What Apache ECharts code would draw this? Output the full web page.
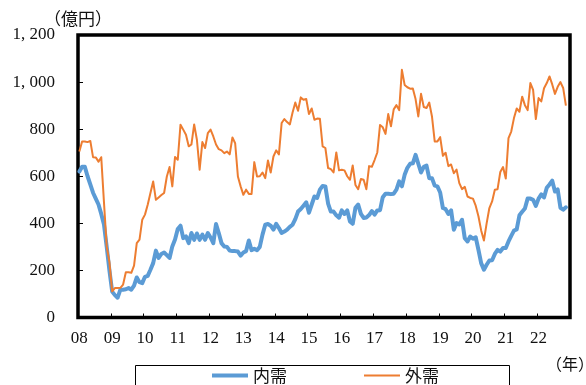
<!DOCTYPE html>
<html>
<head>
<meta charset="utf-8">
<script src="https://cdn.jsdelivr.net/npm/echarts@6/dist/echarts.min.js"></script>
<style>
  html, body { margin: 0; padding: 0; background: #fff; }
  #chart { width: 586px; height: 385px; }
</style>
</head>
<body>
<div id="chart"></div>
<script>
// Machine orders, monthly, Jan 2008 – Nov 2022 (100 million yen)
const yearLabels = ['08','09','10','11','12','13','14','15','16','17','18','19','20','21','22'];

// Month categories: 2008-01 ... 2022-12
const months = [];
for (let y = 2008; y <= 2022; y++) {
  for (let m = 1; m <= 12; m++) months.push(y + '-' + (m < 10 ? '0' + m : m));
}

// 内需 (domestic demand)
const domestic = [
  620, 640, 640, 600, 565, 530, 505, 480, 440, 395, 300, 200,
  110,  95,  84, 118, 118, 120, 125, 118, 135, 170, 150, 146,
  173, 177, 203, 231, 284, 253, 270, 276, 265, 253, 302, 331,
  376, 390, 337, 345, 316, 359, 330, 357, 330, 352, 330, 359,
  340, 316, 397, 359, 316, 302, 300, 284, 282, 282, 280, 263,
  276, 282, 327, 286, 292, 286, 300, 352, 394, 397, 390, 373,
  398, 380, 359, 365, 373, 385, 394, 418, 450, 461, 475, 489,
  445, 480, 514, 508, 543, 559, 557, 484, 450, 450, 434, 424,
  455, 440, 455, 408, 398, 466, 480, 440, 423, 425, 435, 452,
  437, 455, 456, 511, 526, 526, 524, 526, 543, 578, 557, 606,
  636, 653, 655, 691, 653, 616, 640, 645, 592, 592, 560, 557,
  531, 465, 460, 440, 455, 373, 401, 395, 415, 337, 323, 344,
  335, 341, 288, 231, 203, 224, 242, 243, 270, 287, 280, 295,
  295, 323, 347, 369, 374, 434, 449, 463, 505, 505, 500, 474,
  505, 523, 510, 551, 565, 581, 535, 544, 466, 458, 468
];

// 外需 (foreign demand)
const foreign = [
  705, 748, 748, 745, 750, 681, 680, 662, 681, 490, 302, 235,
  111, 125, 125, 126, 140, 192, 192, 190, 220, 316, 331, 415,
  437, 479, 529, 578, 500, 510, 520, 529, 599, 639, 557, 682,
  670, 819, 798, 776, 727, 735, 820, 755, 628, 745, 720, 783,
  798, 769, 735, 715, 710, 698, 705, 693, 765, 740, 599, 557,
  521, 543, 525, 525, 660, 599, 600, 616, 592, 667, 616, 684,
  710, 693, 826, 843, 830, 820, 871, 913, 878, 935, 925, 928,
  864, 888, 840, 845, 844, 727, 720, 635, 630, 616, 701, 625,
  628, 625, 600, 585, 646, 563, 545, 588, 585, 545, 643, 640,
  669, 701, 818, 808, 780, 864, 812, 884, 902, 881, 1052, 988,
  978, 972, 973, 928, 854, 950, 894, 890, 913, 854, 748, 748,
  766, 687, 700, 643, 650, 613, 628, 571, 545, 555, 514, 508,
  505, 475, 430, 370, 327, 400, 465, 493, 543, 545, 618, 639,
  590, 762, 790, 847, 888, 874, 938, 902, 881, 996, 967, 843,
  932, 918, 974, 996, 1024, 990, 950, 980, 1000, 975, 900
];

const serif = '"Liberation Serif", "Times New Roman", serif';
const cjk = '"Noto Sans CJK JP", sans-serif';

const chart = echarts.init(document.getElementById('chart'), null, { renderer: 'canvas' });

chart.setOption({
  animation: false,
  backgroundColor: '#ffffff',
  grid: {
    left: 78, right: 16, top: 35, bottom: 67.5,
    show: true,
    borderColor: '#000',
    borderWidth: 3.5,
    backgroundColor: 'transparent'
  },
  xAxis: {
    type: 'category',
    data: months,
    boundaryGap: true,
    axisLine: { show: false },
    axisTick: {
      show: true,
      inside: true,
      length: 4,
      interval: (i) => i % 12 === 0,
      lineStyle: { color: '#000', width: 1 }
    },
    axisLabel: {
      interval: (i) => i % 12 === 0,
      formatter: (v, i) => yearLabels[Math.floor(i / 12)],
      margin: 13,
      fontFamily: serif,
      fontSize: 17,
      color: '#111'
    },
    splitLine: { show: false }
  },
  yAxis: {
    type: 'value',
    min: 0,
    max: 1200,
    interval: 200,
    axisLine: { show: false },
    axisTick: {
      show: true,
      inside: true,
      length: 5,
      lineStyle: { color: '#000', width: 1 }
    },
    axisLabel: {
      margin: 23,
      fontFamily: serif,
      fontSize: 17,
      color: '#111',
      formatter: (v) => v >= 1000 ? Math.floor(v / 1000) + ', ' + String(v % 1000).padStart(3, '0') : String(v)
    },
    splitLine: { show: false }
  },
  legend: {
    left: 212,
    top: 367,
    itemWidth: 36,
    itemHeight: 14,
    itemGap: 77,
    padding: 0,
    symbolKeepAspect: true,
    textStyle: { fontFamily: cjk, fontSize: 17, color: '#111' },
    data: [
      { name: '内需', icon: 'path://M0,0H36V4H0Z' },
      { name: '外需', icon: 'path://M0,0H36V2H0Z' }
    ]
  },
  graphic: [
    {
      type: 'rect',
      shape: { x: 135.5, y: 365.5, width: 374, height: 30 },
      style: { fill: 'none', stroke: '#000', lineWidth: 1 },
      silent: true
    },
    {
      type: 'text',
      left: 44,
      top: 10,
      style: { text: '（億円）', font: '17px ' + cjk, fill: '#111' },
      silent: true
    },
    {
      type: 'text',
      left: 546,
      top: 356,
      style: { text: '（年）', font: '16px ' + cjk, fill: '#111' },
      silent: true
    }
  ],
  series: [
    {
      name: '内需',
      type: 'line',
      data: domestic,
      symbol: 'none',
      lineStyle: { color: '#5B9BD5', width: 4, join: 'round', cap: 'round' },
      itemStyle: { color: '#5B9BD5' }
    },
    {
      name: '外需',
      type: 'line',
      data: foreign,
      symbol: 'none',
      lineStyle: { color: '#ED7D31', width: 2, join: 'round' },
      itemStyle: { color: '#ED7D31' }
    }
  ]
});
</script>
</body>
</html>
